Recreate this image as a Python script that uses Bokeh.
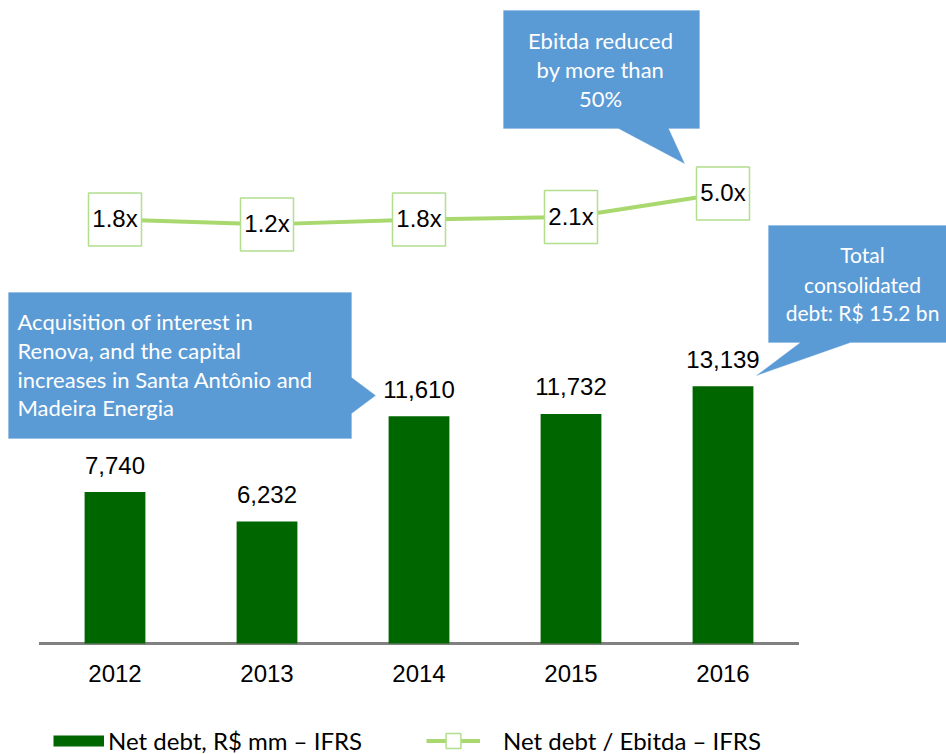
from bokeh.plotting import figure
from bokeh.layouts import column
from bokeh.models import (Range1d, Label, PolyAnnotation, Legend, LegendItem,
                          FixedTicker, ColumnDataSource)
from bokeh.core.properties import value
from bokeh.embed import file_html
from bokeh.resources import INLINE

# ---- data ----
years = [2012, 2013, 2014, 2015, 2016]
year_labels = ["2012", "2013", "2014", "2015", "2016"]
net_debt = [7740, 6232, 11610, 11732, 13139]
net_debt_labels = ["7,740", "6,232", "11,610", "11,732", "13,139"]
ratio = [1.8, 1.2, 1.8, 2.1, 5.0]
ratio_labels = ["1.8x", "1.2x", "1.8x", "2.1x", "5.0x"]

# ---- layout helpers (pixel <-> data) ----
W, H = 946, 754
TOP_H = 705          # main figure height
FRAME_H = 650        # main frame height
X0_PX, DX_PX = 114.5, 152.0
BASE_PX, K = 643.0, 0.01957
R_REF, R_PX, R_K = 1.8, 219.0, 8.125

GREEN = "#006600"
LINE_GREEN = "#A8D86E"
BOX_GREEN = "#B3DE8E"
BLUE = "#5B9BD5"


def X(px):
    return years[0] + (px - X0_PX) / DX_PX


def Y(py):
    return (BASE_PX - py) / K


def R(py):
    return R_REF + (R_PX - py) / R_K


p = figure(width=W, height=TOP_H, output_backend="svg", toolbar_location=None,
           x_range=Range1d(X(0), X(W)), y_range=Range1d(Y(FRAME_H), Y(0)),
           y_axis_location=None, min_border_left=0, min_border_right=0,
           min_border_top=0, min_border_bottom=TOP_H - FRAME_H)
p.extra_y_ranges = {"ratio": Range1d(R(FRAME_H), R(0))}
p.outline_line_color = None
p.xgrid.visible = False
p.ygrid.visible = False
p.background_fill_color = "white"
p.border_fill_color = "white"

# x axis
ax = p.xaxis[0]
ax.ticker = FixedTicker(ticks=years)
ax.major_label_overrides = {y: l for y, l in zip(years, year_labels)}
ax.axis_line_color = None
ax.major_tick_line_color = None
ax.minor_tick_line_color = None
ax.major_tick_out = 0
ax.major_tick_in = 0
ax.major_label_standoff = 14
ax.major_label_text_font = "Liberation Sans"
ax.major_label_text_font_size = "24px"
ax.major_label_text_color = "#000000"

# baseline
p.segment(x0=[years[0] - 0.5], x1=[years[-1] + 0.5], y0=[0], y1=[0],
          line_color="#808080", line_width=3)

# bars
src = ColumnDataSource(dict(x=years, top=net_debt, lbl=net_debt_labels))
bars = p.vbar(x="x", top="top", width=0.4, source=src,
              fill_color=GREEN, line_color=None)
p.text(x="x", y="top", text="lbl", source=src, text_align="center",
       text_baseline="alphabetic", y_offset=-27,
       text_font=value("Liberation Sans"), text_font_size="24px",
       text_color="#000000")

# ratio line
rsrc = ColumnDataSource(dict(x=years, y=ratio, lbl=ratio_labels))
p.line(x="x", y="y", source=rsrc, y_range_name="ratio",
       line_color=LINE_GREEN, line_width=4)
p.scatter(x="x", y="y", source=rsrc, y_range_name="ratio",
          marker="square", size=53, fill_color="white",
          line_color=BOX_GREEN, line_width=1.5)
p.text(x="x", y="y", text="lbl", source=rsrc, y_range_name="ratio",
       text_align="center", text_baseline="middle", y_offset=-1,
       text_font=value("Liberation Sans"), text_font_size="24px",
       text_color="#000000")

# ---- callouts ----
SHIFT = 8  # svg alphabetic baseline correction


def callout(pts):
    p.add_layout(PolyAnnotation(xs=[X(a) for a, _ in pts], ys=[Y(b) for _, b in pts],
                                fill_color=BLUE, fill_alpha=1.0,
                                line_color="#6FA6DA", line_width=1))


def lines(texts, px, baselines, align, size):
    for t, b in zip(texts, baselines):
        p.add_layout(Label(x=X(px), y=Y(b - SHIFT), text=t, text_align=align,
                           text_baseline="alphabetic", text_color="white",
                           text_font="Lato", text_font_size=size))


callout([(503, 10), (699, 10), (699, 128), (668, 128), (684, 163), (618, 128), (503, 128)])
lines(["Ebitda reduced", "by more than", "50%"], 600, [48, 77, 106], "center", "22px")

callout([(8, 292), (351, 292), (351, 377), (375, 395), (351, 413), (351, 438), (8, 438)])
lines(["Acquisition of interest in", "Renova, and the capital",
       "increases in Santa Antônio and", "Madeira Energia"],
      17, [329, 357.5, 386.5, 415], "left", "22px")

callout([(768, 225), (946, 225), (946, 342), (850, 342), (756, 375), (800, 342), (768, 342)])
lines(["Total", "consolidated", "debt: R$ 15.2 bn"], 862, [262, 291.5, 320], "center", "21px")

# ---- legend strip (separate small figure under the chart) ----
LEG_H = H - TOP_H
q = figure(width=W, height=LEG_H, output_backend="svg", toolbar_location=None,
           x_range=Range1d(0, 1), y_range=Range1d(0, 1),
           x_axis_location=None, y_axis_location=None,
           min_border_left=0, min_border_right=0, min_border_top=0, min_border_bottom=0)
q.outline_line_color = None
q.xgrid.visible = False
q.ygrid.visible = False
q.border_fill_color = "white"

# same series, drawn outside the strip's visible range: only their legend glyphs show
lg_bar = q.line(x=years, y=net_debt, line_color=GREEN, line_width=11)
lg_line = q.line(x=years, y=ratio, line_color=LINE_GREEN, line_width=4)
lg_sq = q.scatter(x=years, y=ratio, marker="square", fill_color="white",
                  line_color=BOX_GREEN, line_width=1.5)

common = dict(orientation="horizontal", padding=0, margin=0, border_line_color=None,
              background_fill_alpha=0, label_text_font="Lato",
              label_text_font_size="24px", label_text_color="#000000",
              glyph_height=37)
leg1 = Legend(items=[LegendItem(label="Net debt, R$ mm \u2013 IFRS", renderers=[lg_bar])],
              location=(53, -5), glyph_width=51, label_standoff=4, **common)
leg2 = Legend(items=[LegendItem(label="Net debt / Ebitda \u2013 IFRS", renderers=[lg_line, lg_sq])],
              location=(426, -5), glyph_width=54, label_standoff=23, **common)
q.add_layout(leg1)
q.add_layout(leg2)

layout = column(p, q, spacing=0)
open("out.html", "w").write(file_html(layout, INLINE))
